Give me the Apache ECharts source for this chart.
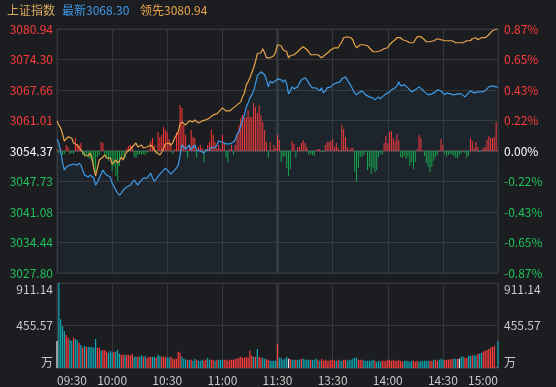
<!DOCTYPE html>
<html><head><meta charset="utf-8">
<style>html,body{margin:0;padding:0;background:#1c1d21;}#c{width:556px;height:387px;}</style>
<script src="https://cdn.jsdelivr.net/npm/echarts@6/dist/echarts.min.js"></script>
</head><body><div id="c"></div>
<script>
const indexName = '上证指数';
const preClose = 3054.37;
const priceTicks = ['3027.80','3034.44','3041.08','3047.73','3054.37','3061.01','3067.66','3074.30','3080.94'];
const pctTicks = ['-0.87%','-0.65%','-0.43%','-0.22%','0.00%','0.22%','0.43%','0.65%','0.87%'];
const volTicks = ['万','455.57','911.14'];
const timeTicks = ['09:30','10:00','10:30','11:00','11:30','13:30','14:00','14:30','15:00'];

const price = [
3056.99,3056.12,3054.15,3051.97,3050.22,3050.88,3051.31,3051.31,3050.88,3051.53,
3051.53,3051.31,3051.75,3051.31,3050.22,3049.13,3048.91,3048.69,3049.13,3049.13,
3048.48,3046.95,3047.60,3048.48,3048.69,3050.22,3049.57,3049.13,3048.91,3048.69,
3047.38,3046.73,3045.86,3045.20,3044.76,3045.20,3045.86,3046.29,3046.51,3046.29,
3046.95,3047.60,3048.04,3047.82,3046.95,3047.60,3048.04,3048.48,3048.69,3048.48,
3048.91,3049.57,3048.48,3047.82,3048.26,3048.91,3049.35,3049.57,3050.22,3050.66,
3050.22,3049.79,3049.35,3049.57,3050.22,3050.66,3051.31,3053.50,3055.68,3055.46,
3054.81,3055.24,3055.68,3054.59,3055.24,3055.68,3054.59,3054.81,3054.37,3054.59,
3053.93,3054.59,3054.59,3054.59,3055.24,3055.02,3055.02,3055.68,3056.55,3056.77,
3056.33,3056.12,3055.90,3055.68,3055.90,3056.12,3056.33,3056.77,3058.08,3058.52,
3059.83,3061.14,3062.23,3063.98,3064.85,3065.94,3066.59,3067.47,3069.00,3070.74,
3070.96,3071.62,3072.05,3070.96,3069.87,3068.34,3069.65,3069.21,3069.00,3069.65,
3070.09,3070.31,3069.87,3069.43,3069.87,3069.00,3066.81,3067.47,3068.34,3067.90,
3067.47,3068.34,3069.21,3069.87,3069.65,3070.31,3069.87,3069.21,3068.56,3068.12,
3067.69,3068.12,3067.69,3067.47,3068.12,3067.03,3067.47,3068.12,3068.34,3068.34,
3068.78,3069.21,3069.21,3068.78,3069.43,3070.09,3070.52,3070.52,3069.87,3069.21,
3068.56,3067.69,3067.03,3066.59,3067.03,3067.25,3067.47,3067.03,3066.59,3066.38,
3066.16,3066.16,3065.94,3065.50,3065.29,3066.16,3065.72,3066.16,3066.59,3066.81,
3067.03,3067.25,3067.69,3067.90,3068.12,3068.56,3069.43,3068.56,3068.34,3068.78,
3068.56,3068.12,3067.69,3067.25,3067.25,3067.69,3068.12,3068.34,3068.12,3067.69,
3067.25,3067.03,3066.59,3066.59,3066.81,3066.81,3067.25,3067.69,3067.69,3067.47,
3067.03,3066.59,3067.03,3067.25,3066.81,3066.81,3066.59,3066.38,3066.81,3066.59,
3066.81,3066.38,3066.16,3066.38,3067.03,3067.47,3067.47,3067.03,3067.25,3067.25,
3067.03,3067.25,3067.03,3067.47,3067.90,3068.34,3068.56,3068.56,3068.56,3068.34,3068.30
];

const lead = [
3060.92,3060.05,3059.39,3058.08,3056.55,3056.77,3057.43,3057.86,3057.21,3056.12,
3056.33,3055.68,3055.90,3054.59,3054.59,3053.50,3053.93,3053.28,3053.93,3052.84,
3050.66,3048.91,3050.66,3052.41,3052.84,3053.06,3053.50,3052.84,3052.84,3052.84,
3051.53,3051.97,3052.41,3051.75,3052.19,3053.06,3052.41,3053.50,3054.15,3054.37,
3054.81,3054.59,3055.68,3056.12,3055.24,3055.02,3055.68,3055.02,3055.24,3055.24,
3055.02,3055.68,3055.24,3054.59,3054.15,3053.93,3053.50,3054.15,3055.02,3055.90,
3055.68,3056.12,3055.68,3056.12,3057.21,3057.86,3058.52,3060.26,3060.70,3060.48,
3060.05,3060.48,3060.92,3061.14,3060.70,3061.14,3061.57,3060.48,3060.70,3060.92,
3060.92,3061.14,3061.14,3061.57,3061.14,3062.23,3062.45,3062.45,3062.88,3063.32,
3063.76,3063.54,3063.10,3063.32,3063.10,3063.32,3063.76,3064.19,3064.41,3064.63,
3065.07,3066.16,3067.03,3068.78,3069.43,3070.31,3071.40,3072.49,3073.80,3075.55,
3075.33,3075.76,3076.64,3075.76,3074.67,3074.24,3074.67,3074.89,3075.11,3075.98,
3077.51,3077.73,3077.29,3076.42,3076.85,3075.98,3074.67,3075.11,3075.33,3075.33,
3075.55,3075.98,3076.42,3076.85,3077.07,3076.85,3076.42,3075.98,3075.33,3075.11,
3075.33,3075.33,3075.33,3075.11,3074.67,3074.67,3075.33,3075.76,3075.98,3076.42,
3076.85,3076.85,3076.85,3076.85,3077.07,3078.16,3079.04,3079.26,3079.26,3079.26,
3079.04,3078.60,3077.51,3076.85,3076.85,3077.51,3077.73,3077.51,3077.73,3077.29,
3076.85,3076.42,3075.98,3076.20,3075.98,3076.20,3076.20,3076.42,3076.64,3076.64,
3076.85,3077.51,3077.95,3078.16,3078.60,3079.04,3079.26,3079.04,3078.60,3078.60,
3078.38,3078.16,3077.95,3077.73,3077.95,3078.38,3079.26,3079.47,3079.26,3079.04,
3078.60,3078.16,3077.95,3078.16,3078.38,3078.38,3078.60,3078.82,3079.04,3078.60,
3078.60,3078.38,3078.38,3078.38,3078.38,3078.38,3078.16,3077.95,3077.73,3077.95,
3078.16,3077.95,3078.16,3078.38,3078.60,3078.38,3078.82,3078.60,3079.04,3078.60,
3078.82,3079.04,3079.04,3079.04,3079.26,3079.69,3080.13,3080.57,3080.94,3080.94,3080.94
];

const strength = [
1,-2,3,-4,-3,6,4,-3,-2,-3,
13,7,6,8,-4,-6,-5,-7,-8,-10,
-17,-21,-6,-4,9,8,-4,-6,-10,-8,
-20,-15,-25,-30,-15,-8,-5,-7,3,5,
6,3,-6,-7,-4,-3,-4,-3,-4,-2,
2,10,13,6,-3,19,14,16,24,21,
19,12,8,-3,2,19,18,46,43,26,
16,-7,6,21,14,13,-7,4,6,3,
-11,2,6,9,21,16,9,3,6,2,
16,8,-7,-11,2,6,-4,6,16,26,
33,36,33,34,41,34,34,48,44,38,
46,36,29,21,9,-7,9,1,6,3,
16,11,-11,-6,-5,-17,-25,-18,10,7,
-7,4,4,8,11,8,4,-4,-3,-4,
-5,1,2,2,-1,-1,6,9,9,10,
12,4,8,3,1,26,22,14,4,1,
3,3,-21,-31,-17,-6,-6,-4,-1,-19,
-16,-23,-17,-21,-19,-6,-2,-4,8,15,
8,19,20,13,10,17,11,-6,-7,-5,
-8,-6,-15,-11,-18,-11,2,16,13,1,
-5,-12,-16,-21,-16,-10,-6,-4,1,12,
6,-3,-6,-4,-3,-4,-5,-7,-7,-4,
-2,1,-2,-7,-5,13,10,3,9,4,
-1,1,3,4,11,15,13,13,14,29,1
];

const volume = [
290,911,523,449,396,353,325,300,290,325,
311,300,272,247,219,237,226,226,226,226,
216,311,216,216,187,194,194,173,163,184,
166,173,177,194,152,141,141,141,141,141,
134,152,120,120,120,120,141,120,131,110,
120,120,120,120,110,141,131,120,120,120,
110,113,120,99,99,99,173,163,120,99,
92,88,85,92,78,99,88,78,78,88,
78,88,110,88,88,88,78,85,88,88,
88,88,88,78,88,88,88,99,99,110,
120,110,110,120,110,184,131,120,120,205,
120,110,110,99,92,88,78,78,78,78,
258,110,110,88,99,120,99,99,88,88,
88,88,88,99,99,92,88,88,88,88,
88,99,88,78,99,78,88,78,78,88,
88,82,78,88,78,78,88,88,78,88,
88,99,110,110,88,88,88,82,78,78,
78,78,88,78,67,78,67,78,78,78,
88,88,78,84,78,78,88,78,67,78,
78,78,67,78,78,67,78,67,78,72,
78,78,78,78,78,88,88,78,88,99,
88,88,88,88,94,99,99,99,99,99,
120,120,110,110,131,131,131,141,131,152,
152,163,173,184,194,205,216,226,236,10,290
];

const volDir = (
'wttttrrttr'+'ttrtrtrttt'+'ttrrtrrrtt'+'trtttrrtrr'+'rrttrttrtr'+'rrttrttrrr'+
'ttrrrrrrtt'+'trtrttrttt'+'rrttrrtrtt'+'trrrrrrrrr'+'rrrrrrrtrt'+'rrttrrtttt'+
'rtttttwrtt'+'rttrttttrt'+'ttrtrrrrrr'+'rrtrttrrtt'+'ttttrrrttt'+'tttrtttrrr'+
'rrrrrrrrrt'+'ttttrrrttt'+'tttrrtrrtt'+'trrrrrttrw'+'ttrrttrttr'+'ttrrrrrrrrt'
).split('');

// time categories for the trading session
const times = [];
const fmt = m => String(Math.floor(m/60)).padStart(2,'0') + ':' + String(m%60).padStart(2,'0');
for (let m = 9*60+30; m <= 11*60+30; m++) times.push(fmt(m));
for (let m = 13*60+1; m <= 15*60; m++) times.push(fmt(m));

const RED = '#ff3b3b', GREEN = '#1fc25b', WHITE = '#ffffff', GRAY = '#c8c8c8';
const GRID = '#34363b';
const FONT = '"Noto Sans CJK SC", "Noto Sans", sans-serif';
const yMin = -26.57, yMax = 26.57, yStep = 6.6425;
const tickIdx = v => Math.round((Number(v) - yMin) / yStep);
const signColor = v => { v = Number(v); return v > 0.01 ? RED : (v < -0.01 ? GREEN : WHITE); };
const every30 = (i) => i % 30 === 0;

const chart = echarts.init(document.getElementById('c'), null, {renderer: 'canvas'});
const midLine = () => ({
  silent: true, symbol: 'none', label: {show: false}, animation: false, z: 1,
  lineStyle: {color: '#33353a', width: 3, type: 'solid'},
  data: [{xAxis: times[120]}]
});

chart.setOption({
  backgroundColor: '#1c1d21',
  animation: false,
  textStyle: {fontFamily: FONT},
  graphic: [
    {type: 'text', x: 7, y: 10, style: {text: indexName, fill: '#dcaa5e', font: '12px ' + FONT, verticalAlign: 'middle'}},
    {type: 'text', x: 62, y: 10, style: {text: '最新' + price[price.length-1].toFixed(2), fill: '#3d9be9', font: '12px ' + FONT, verticalAlign: 'middle'}},
    {type: 'text', x: 140, y: 10, style: {text: '领先' + lead[lead.length-1].toFixed(2), fill: '#e8a34a', font: '12px ' + FONT, verticalAlign: 'middle'}}
  ],
  grid: [
    {left: 57, top: 29, width: 441, height: 244, show: true, borderColor: GRID, borderWidth: 1},
    {left: 57, top: 283, width: 441, height: 85, show: true, borderColor: GRID, borderWidth: 1}
  ],
  xAxis: [
    {type: 'category', gridIndex: 0, data: times, boundaryGap: false,
     axisLine: {show: false}, axisTick: {show: false}, axisLabel: {show: false},
     splitLine: {show: true, interval: every30, lineStyle: {color: GRID, width: 1}}},
    {type: 'category', gridIndex: 1, data: times, boundaryGap: false,
     axisLine: {show: false}, axisTick: {show: false},
     axisLabel: {show: true, interval: every30, color: GRAY, fontSize: 12, margin: 6,
       fontFamily: FONT, alignMinLabel: 'left', alignMaxLabel: 'right',
       formatter: (v, i) => (i % 30 === 0 ? timeTicks[i / 30] : '')},
     splitLine: {show: true, interval: every30, lineStyle: {color: GRID, width: 1}}}
  ],
  yAxis: [
    {type: 'value', gridIndex: 0, position: 'left', min: yMin, max: yMax, interval: yStep,
     axisLine: {show: false}, axisTick: {show: false},
     axisLabel: {margin: 4, fontSize: 12, fontFamily: FONT,
       formatter: v => priceTicks[tickIdx(v)], color: v => signColor(v)},
     splitLine: {show: true, lineStyle: {color: GRID, width: 1}}},
    {type: 'value', gridIndex: 0, position: 'right', min: yMin, max: yMax, interval: yStep,
     axisLine: {show: false}, axisTick: {show: false},
     axisLabel: {margin: 6, fontSize: 12, fontFamily: FONT,
       formatter: v => pctTicks[tickIdx(v)], color: v => signColor(v)},
     splitLine: {show: false}},
    {type: 'value', gridIndex: 0, min: -122, max: 122, show: false, splitLine: {show: false}},
    {type: 'value', gridIndex: 1, position: 'left', min: 0, max: 911.14, interval: 455.57,
     axisLine: {show: false}, axisTick: {show: false},
     axisLabel: {margin: 4, fontSize: 12, fontFamily: FONT, color: GRAY,
       verticalAlignMinLabel: 'bottom', verticalAlignMaxLabel: 'top',
       formatter: v => volTicks[Math.round(v / 455.57)]},
     splitLine: {show: true, lineStyle: {color: GRID, width: 1}}},
    {type: 'value', gridIndex: 1, position: 'right', min: 0, max: 911.14, interval: 455.57,
     axisLine: {show: false}, axisTick: {show: false},
     axisLabel: {margin: 6, fontSize: 12, fontFamily: FONT, color: GRAY,
       verticalAlignMinLabel: 'bottom', verticalAlignMaxLabel: 'top',
       formatter: v => volTicks[Math.round(v / 455.57)]},
     splitLine: {show: false}}
  ],
  series: [
    {name: 'midday', type: 'line', xAxisIndex: 0, yAxisIndex: 0, data: [], z: 0, silent: true,
     markLine: midLine()},
    {name: 'middayVol', type: 'line', xAxisIndex: 1, yAxisIndex: 3, data: [], z: 0, silent: true,
     markLine: midLine()},
    {name: 'strength', type: 'bar', xAxisIndex: 0, yAxisIndex: 2, data: strength,
     barWidth: 1, z: 2, silent: true,
     itemStyle: {color: p => (p.value >= 0 ? '#ff3636' : '#16a547')},
     markLine: {silent: true, symbol: 'none', label: {show: false}, z: 1,
       lineStyle: {color: '#3d3f45', width: 2, type: 'solid'}, data: [{yAxis: 0}]}},
    {name: 'price', type: 'line', xAxisIndex: 0, yAxisIndex: 0,
     data: price.map(v => +(v - preClose).toFixed(2)),
     showSymbol: false, symbol: 'none', z: 3, silent: true,
     lineStyle: {color: '#3d9be9', width: 1.2},
     areaStyle: {color: 'rgba(61,155,233,0.08)', origin: 'start'}},
    {name: 'lead', type: 'line', xAxisIndex: 0, yAxisIndex: 0,
     data: lead.map(v => +(v - preClose).toFixed(2)),
     showSymbol: false, symbol: 'none', z: 4, silent: true,
     lineStyle: {color: '#e8a34a', width: 1.2}},
    {name: 'volume', type: 'bar', xAxisIndex: 1, yAxisIndex: 3, data: volume,
     barWidth: 1.2, silent: true, z: 2,
     itemStyle: {color: p => ({r: '#ff3e3e', t: '#0fa8b4', w: '#e8e8e8'})[volDir[p.dataIndex]]}}
  ]
});
</script></body></html>
